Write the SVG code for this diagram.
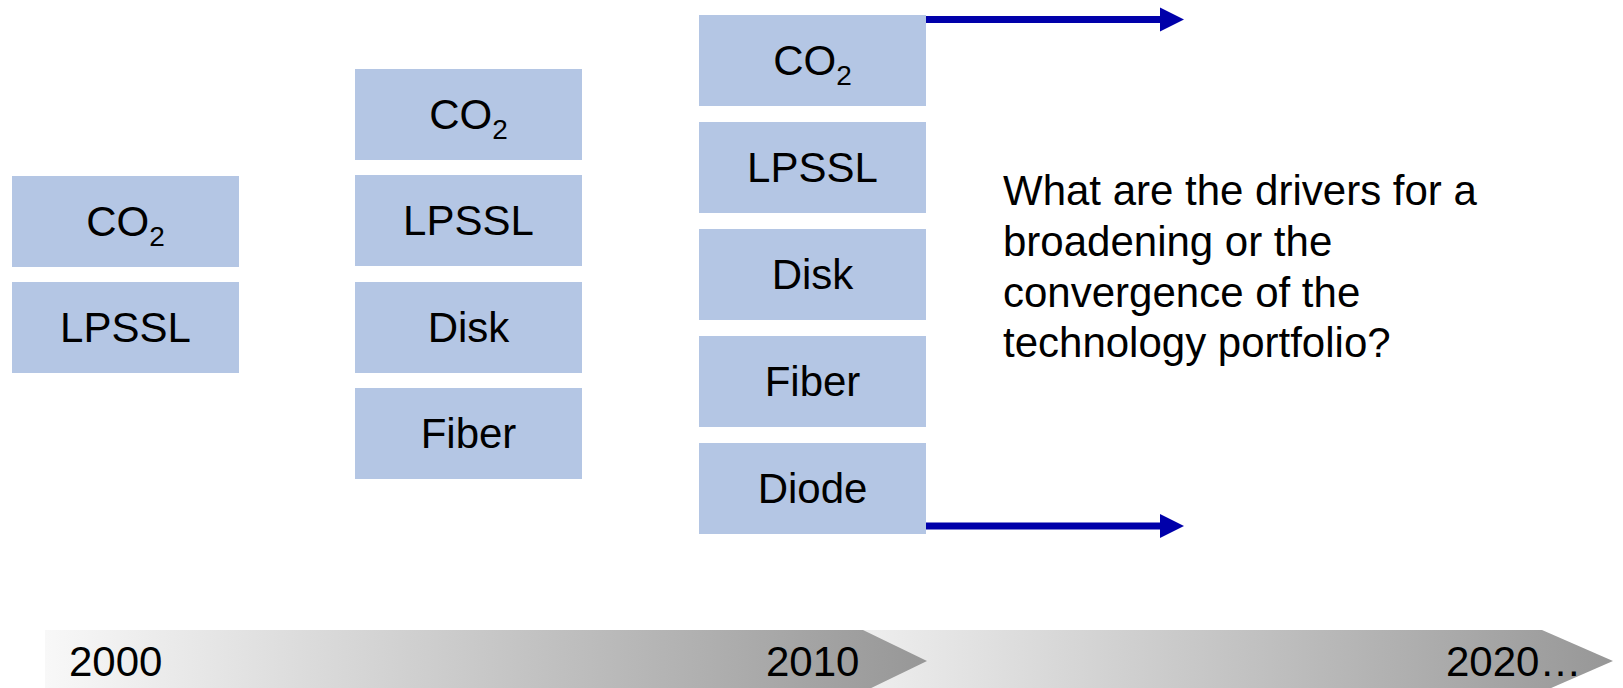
<svg xmlns="http://www.w3.org/2000/svg" width="1623" height="688" viewBox="0 0 1623 688">
  <defs>
    <linearGradient id="band1" x1="0" y1="0" x2="1" y2="0">
      <stop offset="0" stop-color="#f8f8f8"/>
      <stop offset="1" stop-color="#979797"/>
    </linearGradient>
    <linearGradient id="band2" x1="0" y1="0" x2="1" y2="0">
      <stop offset="0" stop-color="#efefef"/>
      <stop offset="1" stop-color="#979797"/>
    </linearGradient>
  </defs>
  <style>
    .box { fill: #b4c6e4; }
    .lbl { font-family: "Liberation Sans", Arial, sans-serif; font-size: 42px; fill: #000; text-anchor: middle; }
    .sub { font-size: 28px; }
    .q { font-family: "Liberation Sans", Arial, sans-serif; font-size: 42px; fill: #000; }
    .yr { font-family: "Liberation Sans", Arial, sans-serif; font-size: 42px; fill: #000; }
    .conn { stroke: #0000aa; stroke-width: 7; fill: none; }
    .head { fill: #0000aa; }
  </style>

  <!-- timeline bands -->
  <g id="timeline">
    <path d="M858,630 H1542 L1613,661 L1542,692 H858 Z" fill="url(#band2)"/>
    <path d="M45,630 H863 L927,661 L863,692 H45 Z" fill="url(#band1)"/>
    <text class="yr" x="69" y="676">2000</text>
    <text class="yr" x="766" y="676">2010</text>
    <text class="yr" x="1446" y="676">2020…</text>
  </g>

  <!-- 2000 portfolio -->
  <g id="c1-co2"><rect class="box" x="12" y="176" width="227" height="91"/><text class="lbl" x="125.5" y="236">CO<tspan class="sub" dy="10">2</tspan></text></g>
  <g id="c1-lpssl"><rect class="box" x="12" y="282" width="227" height="91"/><text class="lbl" x="125.5" y="342">LPSSL</text></g>

  <!-- intermediate portfolio -->
  <g id="c2-co2"><rect class="box" x="355" y="69" width="227" height="91"/><text class="lbl" x="468.5" y="129">CO<tspan class="sub" dy="10">2</tspan></text></g>
  <g id="c2-lpssl"><rect class="box" x="355" y="175" width="227" height="91"/><text class="lbl" x="468.5" y="235">LPSSL</text></g>
  <g id="c2-disk"><rect class="box" x="355" y="282" width="227" height="91"/><text class="lbl" x="468.5" y="342">Disk</text></g>
  <g id="c2-fiber"><rect class="box" x="355" y="388" width="227" height="91"/><text class="lbl" x="468.5" y="448">Fiber</text></g>

  <!-- 2010 portfolio -->
  <g id="c3-co2"><rect class="box" x="699" y="15" width="227" height="91"/><text class="lbl" x="812.5" y="75">CO<tspan class="sub" dy="10">2</tspan></text></g>
  <g id="c3-lpssl"><rect class="box" x="699" y="122" width="227" height="91"/><text class="lbl" x="812.5" y="182">LPSSL</text></g>
  <g id="c3-disk"><rect class="box" x="699" y="229" width="227" height="91"/><text class="lbl" x="812.5" y="289">Disk</text></g>
  <g id="c3-fiber"><rect class="box" x="699" y="336" width="227" height="91"/><text class="lbl" x="812.5" y="396">Fiber</text></g>
  <g id="c3-diode"><rect class="box" x="699" y="443" width="227" height="91"/><text class="lbl" x="812.5" y="503">Diode</text></g>

  <!-- outlook arrows -->
  <g id="connectors">
    <line class="conn" x1="926" y1="19.5" x2="1162" y2="19.5"/>
    <polygon class="head" points="1160,7.5 1184,19.5 1160,31.5"/>
    <line class="conn" x1="926" y1="526" x2="1162" y2="526"/>
    <polygon class="head" points="1160,514 1184,526 1160,538"/>
  </g>

  <g id="question">
    <text class="q" x="1003" y="205">What are the drivers for a</text>
    <text class="q" x="1003" y="256">broadening or the</text>
    <text class="q" x="1003" y="306.5">convergence of the</text>
    <text class="q" x="1003" y="357">technology portfolio?</text>
  </g>
</svg>
